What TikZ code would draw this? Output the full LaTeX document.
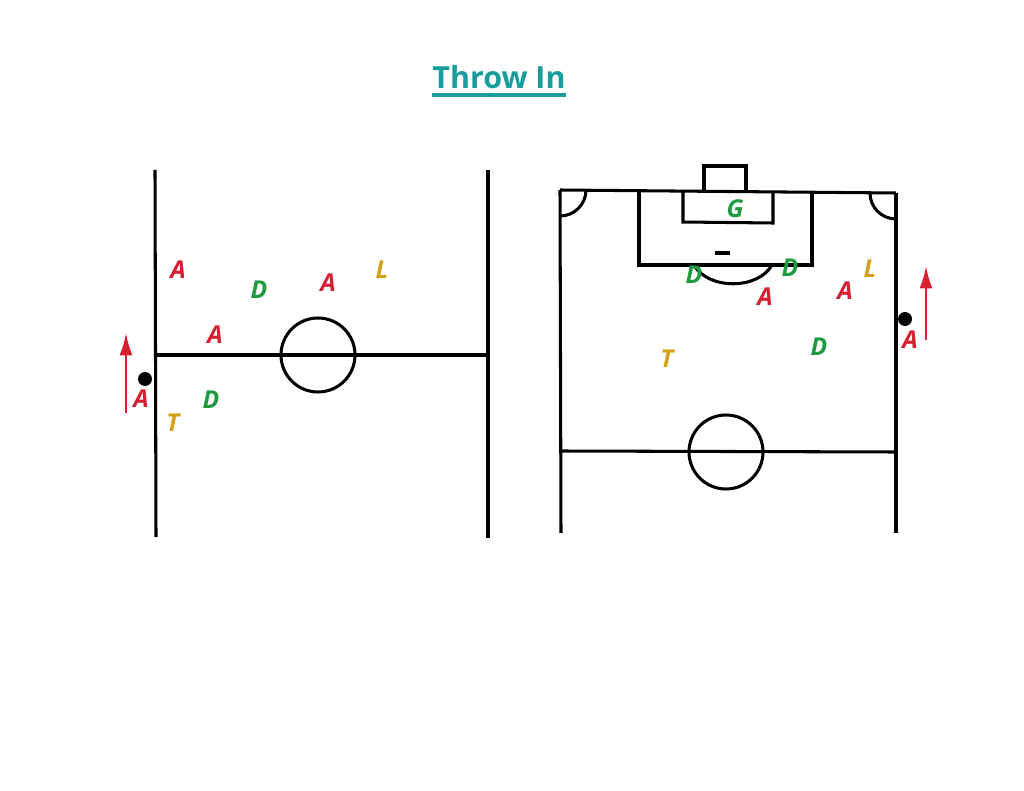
\documentclass[tikz,border=0pt]{standalone}
\usepackage{fontspec}
\setsansfont{Open Sans}
\usepackage{xcolor}
\usepackage{tikz}
\usetikzlibrary{arrows.meta}
\definecolor{title_teal}{HTML}{1A9C9C}
\definecolor{att_red}{HTML}{D42030}
\definecolor{def_green}{HTML}{1E9A40}
\definecolor{lead_gold}{HTML}{D4A017}
\tikzset{
  pitch/.style = {line width=2.6pt, black},
  player/.style = {font=\sffamily\bfseries\itshape\fontsize{21}{21}\selectfont, inner sep=0pt},
  attacker/.style = {player, att_red},
  defender/.style = {player, def_green},
  leader/.style = {player, lead_gold},
  run/.style = {-{Latex[length=19pt, width=11pt]}, att_red, line width=2pt}
}

\begin{document}
\begin{tikzpicture}[x=0.03cm, y=-0.03cm]
      \useasboundingbox (0,0) rectangle (1024,791);

      \node[font=\sffamily\bfseries\fontsize{26}{26}\selectfont, text=title_teal, inner sep=0pt] (title) at (499,77)
        {Throw In};
      \draw[title_teal, line width=3pt] ([yshift=-5pt]title.south west) -- ([yshift=-5pt]title.south east);

      % left pitch
      \draw[pitch] (155,170) -- (156,537);
      \draw[pitch] (488,170) -- (488,538);
      \draw[pitch] (155,355) -- (488,355);
      \draw[pitch] (318,355) circle (37);
      \fill (145,379) circle (7);
      \coordinate (l_run_start) at (126,413);
      \coordinate (l_run_end) at (126,333);
      \draw[run] (l_run_start) -- (l_run_end);

      \node[attacker] (l_a1) at (178,270) {A};
      \node[defender] (l_d1) at (259,290) {D};
      \node[attacker] (l_a2) at (328,283) {A};
      \node[leader] (l_l) at (382,270) {L};
      \node[attacker] (l_a3) at (215,335) {A};
      \node[defender] (l_d2) at (211,400) {D};
      \node[attacker] (l_thrower) at (141,399) {A};
      \node[leader] (l_t) at (173,423) {T};

      % right pitch
      \draw[pitch] (560,190) -- (896,193);
      \draw[pitch] (560,190) -- (561,533);
      \draw[pitch] (896,193) -- (896,533);
      \draw[pitch] (561,451) -- (896,452);
      \draw[pitch] (726,452) circle (37);
      \draw[pitch] (704,190) -- (704,166) -- (746,166) -- (746,191);
      \draw[pitch] (639,191) -- (639,265) -- (812,265) -- (812,192);
      \draw[pitch] (683,191) -- (683,222) -- (773,223) -- (773,192);
      \draw[pitch] (715,253) -- (730,253);
      \draw[pitch] (694,265) .. controls (708,290) and (758,290) .. (772,265);
      \draw[pitch] (560,216) arc (90:0:26);
      \draw[pitch] (870,193) arc (180:90:26);
      \fill (905,319) circle (7);
      \coordinate (r_run_start) at (926,340);
      \coordinate (r_run_end) at (926,266);
      \draw[run] (r_run_start) -- (r_run_end);

      \node[defender] (r_g) at (735,209) {G};
      \node[defender] (r_d1) at (694,275) {D};
      \node[defender] (r_d2) at (790,268) {D};
      \node[leader] (r_l) at (870,269) {L};
      \node[attacker] (r_a1) at (765,297) {A};
      \node[attacker] (r_a2) at (845,291) {A};
      \node[attacker] (r_thrower) at (910,340) {A};
      \node[leader] (r_t) at (667,359) {T};
      \node[defender] (r_d3) at (819,347) {D};
    \end{tikzpicture}
\end{document}
